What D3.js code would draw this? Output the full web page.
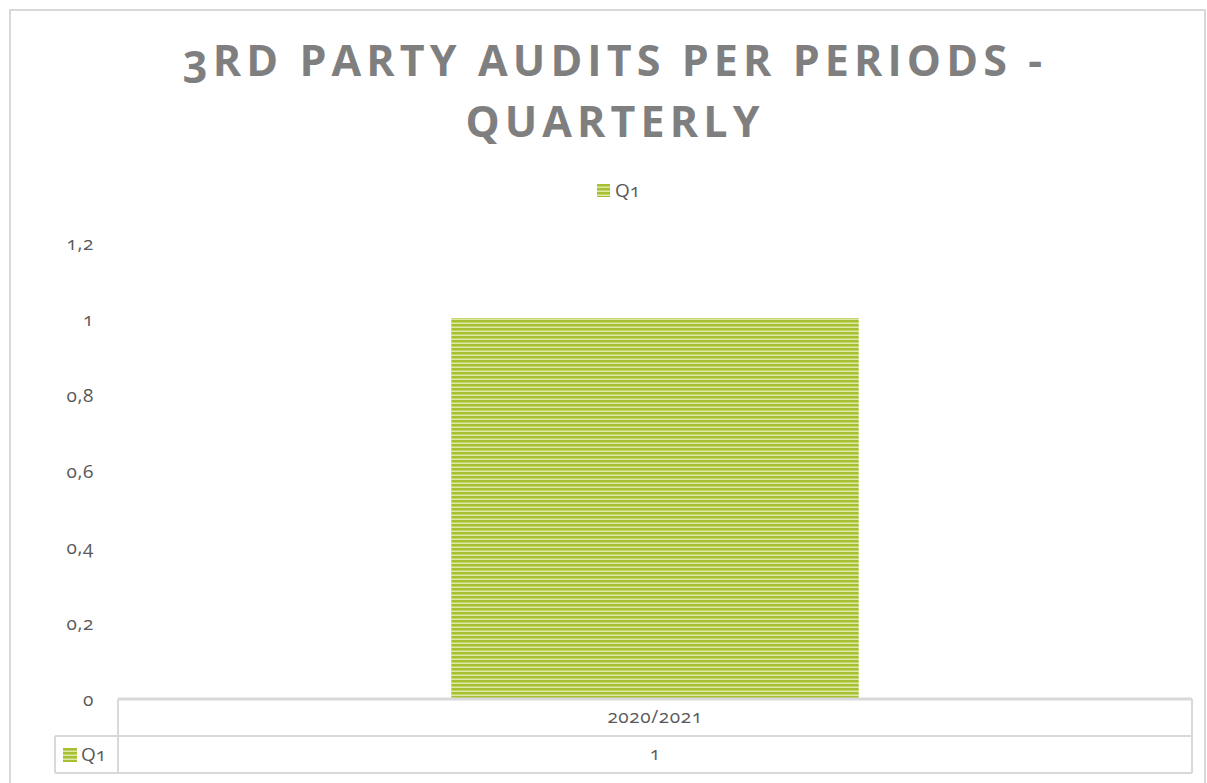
<!DOCTYPE html>
<html>
<head>
<meta charset="utf-8">
<script src="https://cdn.jsdelivr.net/npm/d3@7"></script>
<style>
  html, body { margin: 0; padding: 0; background: #fff; }
  svg { display: block; }
  svg text { font-variant-numeric: oldstyle-nums; }
</style>
</head>
<body>
<div id="chart"></div>
<script>
/* 3rd party audits per periods - quarterly
 * single clustered column + data table under the axis */

var categories = ['2020/2021'];
var seriesName = 'Q1';
var values     = [1];
var yTicks     = [0, 0.2, 0.4, 0.6, 0.8, 1, 1.2];
var titleLines = ['3RD PARTY AUDITS PER PERIODS -', 'QUARTERLY'];

(function drawChart() {
  var W = 1207, H = 783;
  var svg = d3.select('#chart').append('svg')
    .attr('width', W).attr('height', H);

  var FONT  = '"Open Sans", Lato, sans-serif';
  var GRID  = '#d9d9d9';
  var LABEL = '#595959';

  /* plot box */
  var left = 118, right = 1192, top = 242, bottom = 698;

  /* stripe fill like the excel pattern */
  var defs = svg.append('defs');
  var pat = defs.append('pattern')
    .attr('id', 'stripes').attr('patternUnits', 'userSpaceOnUse')
    .attr('width', 8).attr('height', 4);
  pat.append('rect').attr('width', 8).attr('height', 4).attr('fill', '#dce8a8');
  pat.append('rect').attr('y', 0).attr('width', 8).attr('height', 2).attr('fill', '#a6bf33');
  pat.append('rect').attr('y', 2).attr('width', 8).attr('height', 1).attr('fill', '#c2d66a');

  /* outer frame */
  svg.append('rect')
    .attr('x', 10).attr('y', 10).attr('width', 1195).attr('height', 790)
    .attr('fill', '#fff').attr('stroke', GRID).attr('stroke-width', 2);

  /* title */
  var title = svg.append('text')
    .attr('text-anchor', 'middle')
    .attr('font-family', FONT).attr('font-weight', 700)
    .attr('font-size', 43).attr('fill', '#7f7f7f')
    .attr('letter-spacing', 5.1);
  titleLines.forEach(function (t, i) {
    title.append('tspan').attr('x', 615).attr('y', 76 + i * 61).text(t);
  });

  /* legend on top */
  svg.append('rect').attr('x', 597).attr('y', 184)
    .attr('width', 13).attr('height', 13).attr('fill', 'url(#stripes)');
  svg.append('text').attr('x', 615).attr('y', 197)
    .attr('font-family', FONT).attr('font-size', 19).attr('fill', LABEL)
    .text(seriesName);

  /* scales */
  var x = d3.scaleBand().domain(categories).range([left, right]).padding(0.45);
  var xCell = d3.scaleBand().domain(categories).range([left, right]).padding(0);
  var y = d3.scaleLinear().domain([0, 1.2]).range([bottom, top]);

  var loc = d3.formatLocale({ decimal: ',', thousands: '.', grouping: [3], currency: ['', ''] });
  var fmt = loc.format('.1~f');

  /* y axis labels only */
  var yAxis = svg.append('g')
    .attr('transform', 'translate(' + left + ',0)')
    .call(d3.axisLeft(y).tickValues(yTicks).tickSize(0).tickPadding(24).tickFormat(fmt));
  yAxis.select('.domain').remove();
  yAxis.selectAll('text')
    .attr('dy', '0.4em')
    .attr('letter-spacing', 0.6)
    .attr('font-family', FONT).attr('font-size', 19).attr('fill', LABEL);

  /* bars */
  svg.selectAll('rect.bar').data(values).enter().append('rect')
    .attr('class', 'bar')
    .attr('x', function (d, i) { return x(categories[i]); })
    .attr('y', function (d) { return y(d); })
    .attr('width', x.bandwidth())
    .attr('height', function (d) { return y(0) - y(d); })
    .attr('fill', 'url(#stripes)');

  /* axis line + data table */
  var rowH = 37, t0 = 699;
  svg.append('line')
    .attr('x1', left).attr('x2', right).attr('y1', t0).attr('y2', t0)
    .attr('stroke', GRID).attr('stroke-width', 3);

  var tbl = svg.append('g').attr('fill', 'none').attr('stroke', GRID).attr('stroke-width', 2);
  tbl.append('line').attr('x1', left).attr('x2', left).attr('y1', t0).attr('y2', t0 + 2 * rowH);
  tbl.append('line').attr('x1', right).attr('x2', right).attr('y1', t0).attr('y2', t0 + 2 * rowH);
  tbl.append('line').attr('x1', 55).attr('x2', right).attr('y1', t0 + rowH).attr('y2', t0 + rowH);
  tbl.append('line').attr('x1', 55).attr('x2', right).attr('y1', t0 + 2 * rowH).attr('y2', t0 + 2 * rowH);
  tbl.append('line').attr('x1', 55).attr('x2', 55).attr('y1', t0 + rowH).attr('y2', t0 + 2 * rowH);

  /* category header row */
  svg.selectAll('text.cat').data(categories).enter().append('text')
    .attr('class', 'cat')
    .attr('x', function (d) { return xCell(d) + xCell.bandwidth() / 2; })
    .attr('y', t0 + rowH / 2 + 5)
    .attr('text-anchor', 'middle')
    .attr('letter-spacing', 0.6)
    .attr('font-family', FONT).attr('font-size', 19).attr('fill', LABEL)
    .text(function (d) { return d; });

  /* series row */
  svg.append('rect').attr('x', 63).attr('y', t0 + rowH + 12)
    .attr('width', 14).attr('height', 14).attr('fill', 'url(#stripes)');
  svg.append('text').attr('x', 81).attr('y', t0 + rowH + 25)
    .attr('font-family', FONT).attr('font-size', 19).attr('fill', LABEL)
    .text(seriesName);

  svg.selectAll('text.val').data(values).enter().append('text')
    .attr('class', 'val')
    .attr('x', function (d, i) { return xCell(categories[i]) + xCell.bandwidth() / 2; })
    .attr('y', t0 + rowH + rowH / 2 + 5)
    .attr('text-anchor', 'middle')
    .attr('font-family', FONT).attr('font-size', 19).attr('fill', LABEL)
    .text(function (d) { return fmt(d); });
}());
</script>
</body>
</html>
